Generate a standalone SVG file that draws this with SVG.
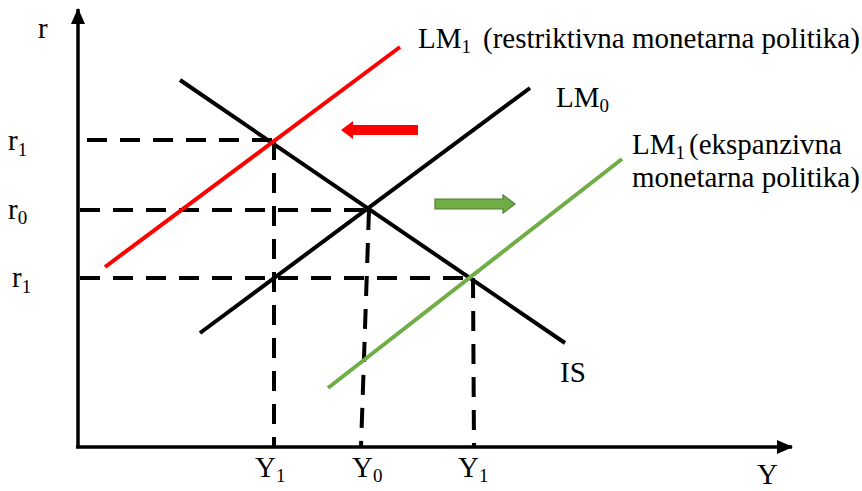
<svg xmlns="http://www.w3.org/2000/svg" width="862" height="491" viewBox="0 0 862 491">
<style>
  text { font-family: "Liberation Serif", "DejaVu Serif", "Times New Roman", serif; font-size: 29px; fill: #000; }
  .sub { font-size: 19px; }
  .axis { stroke: #000; stroke-width: 3.5; fill: none; }
  .dash { stroke: #000; stroke-width: 4; fill: none; stroke-dasharray: 20 13; }
  .curve { stroke-width: 4; fill: none; }
</style>
<defs>
  <marker id="ah" markerWidth="16" markerHeight="14" refX="15" refY="7" orient="auto" markerUnits="userSpaceOnUse">
    <path d="M0,0 L16,7 L0,14 Z" fill="#000"/>
  </marker>
</defs>
<rect width="862" height="491" fill="#fff"/>

<g id="axes">
  <line class="axis" x1="78" y1="447" x2="78" y2="9" marker-end="url(#ah)"/>
  <line class="axis" x1="76" y1="447" x2="792" y2="447" marker-end="url(#ah)"/>
</g>

<g id="connectors">
  <line class="dash" x1="87" y1="140" x2="274" y2="140"/>
  <line class="dash" x1="80" y1="210" x2="369" y2="210"/>
  <line class="dash" x1="80" y1="278" x2="473" y2="278"/>
  <line class="dash" x1="274" y1="140" x2="274" y2="447"/>
  <line class="dash" x1="369" y1="210" x2="361" y2="447"/>
  <line class="dash" x1="473" y1="278" x2="474" y2="447"/>
</g>

<g id="IS">
  <line class="curve" stroke="#000" x1="180" y1="80" x2="565" y2="343"/>
</g>
<g id="LM0">
  <line class="curve" stroke="#000" x1="200" y1="333" x2="530" y2="88"/>
</g>
<g id="LM1-restriktivna">
  <line class="curve" stroke="#FF0000" x1="105" y1="267" x2="400" y2="47"/>
</g>
<g id="LM1-ekspanzivna">
  <line class="curve" stroke="#70AD47" x1="328" y1="388" x2="622" y2="159"/>
</g>

<g id="shift-left">
  <path d="M341,130 L353,121 L353,125 L418,125 L418,135 L353,135 L353,139 Z" fill="#FF0000"/>
</g>
<g id="shift-right">
  <path d="M515,204 L503,195 L503,199 L435,199 L435,209 L503,209 L503,213 Z" fill="#70AD47" stroke="#507E32" stroke-width="1.2"/>
</g>

<g id="labels">
  <text x="38" y="38">r</text>
  <text x="8" y="150">r<tspan class="sub" dy="6">1</tspan></text>
  <text x="8" y="219">r<tspan class="sub" dy="5">0</tspan></text>
  <text x="12" y="287">r<tspan class="sub" dy="6">1</tspan></text>
  <text x="255" y="477">Y<tspan class="sub" dy="5">1</tspan></text>
  <text x="352" y="477">Y<tspan class="sub" dy="5">0</tspan></text>
  <text x="458" y="477">Y<tspan class="sub" dy="5">1</tspan></text>
  <text x="757" y="484">Y</text>
  <text x="560" y="382">IS</text>
  <text x="556" y="107">LM<tspan class="sub" dy="5">0</tspan></text>
  <text x="418" y="48">LM<tspan class="sub" dy="5">1</tspan><tspan dx="12" dy="-5">(restriktivna monetarna politika)</tspan></text>
  <text x="632" y="154">LM<tspan class="sub" dy="5">1</tspan><tspan dx="4" dy="-5">(ekspanzivna</tspan></text>
  <text x="632" y="187">monetarna politika)</text>
</g>
</svg>
